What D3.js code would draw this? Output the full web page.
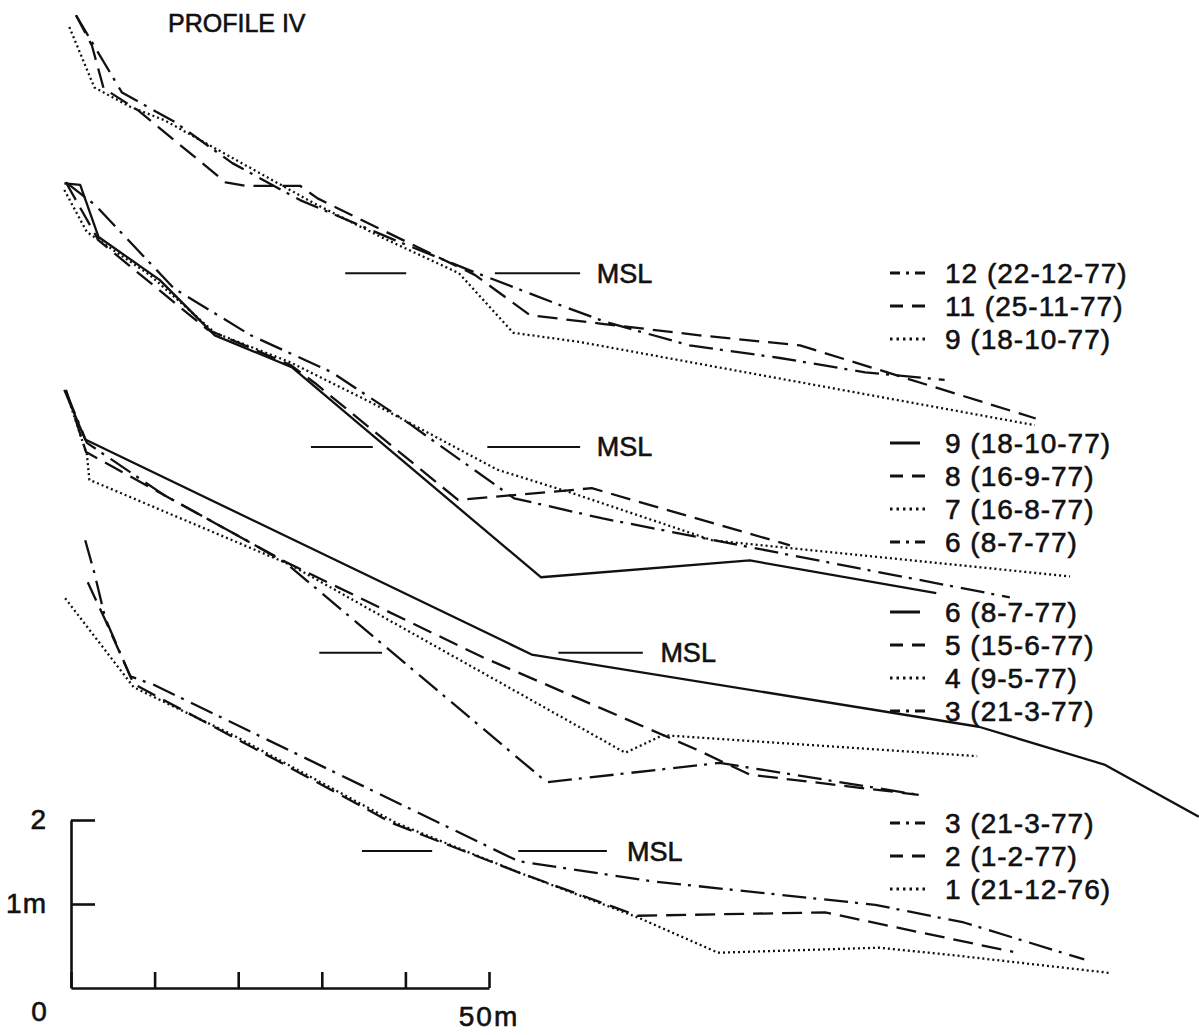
<!DOCTYPE html>
<html lang="en">
<head>
<meta charset="UTF-8">
<title>Profile IV</title>
<script src="https://d3js.org/d3.v7.min.js"></script>
<style>
    body { margin: 0; background: #fff; }
    svg { display: block; }
    text { font-family: "Liberation Sans", Arial, sans-serif; fill: #111; stroke: #111; stroke-width: 0.6px; }
    .profile { fill: none; stroke: #111; stroke-width: 2.3; stroke-linejoin: round; }
    .msl { stroke: #111; stroke-width: 2; }
    .key line { stroke: #111; stroke-width: 3; }
    .axis path, .axis line { stroke: #111; stroke-width: 2.6; fill: none; }
</style>
</head>
<body>
<script>
// distance along profile (m) and height relative to MSL (m)
const g1_12_d = [0.6, 3.1, 6.1, 12.4, 19.3, 27.4, 38.8, 48.3, 58.5, 63.9, 74.0, 84.8, 95.0, 104.5];
const g1_12_h = [3.07, 2.65, 2.15, 1.80, 1.31, 0.87, 0.39, 0.01, -0.38, -0.58, -0.86, -1.01, -1.18, -1.27];
const g1_11_d = [0.6, 2.5, 3.9, 8.0, 18.5, 20.8, 27.4, 29.5, 37.3, 48.3, 54.9, 63.3, 75.2, 87.2, 95.0, 115.4];
const g1_11_h = [3.07, 2.71, 2.20, 1.94, 1.08, 1.04, 1.04, 0.89, 0.51, -0.02, -0.50, -0.60, -0.74, -0.86, -1.10, -1.73];
const g1_9_d = [-0.2, 2.8, 7.1, 11.2, 29.1, 37.3, 46.4, 52.9, 60.9, 115.3];
const g1_9_h = [2.93, 2.21, 1.98, 1.82, 0.83, 0.42, 0.00, -0.71, -0.82, -1.81];

const g2_9_d = [-0.8, 1.1, 3.3, 10.6, 17.2, 26.4, 56.2, 81.2, 103.5];
const g2_9_h = [3.14, 3.12, 2.50, 1.99, 1.33, 0.95, -1.55, -1.35, -1.74];
const g2_8_d = [-0.6, 3.3, 16.3, 26.2, 29.2, 46.3, 62.3, 86.0];
const g2_8_h = [3.15, 2.46, 1.40, 0.98, 0.76, -0.63, -0.49, -1.17];
const g2_7_d = [-0.8, 1.9, 9.4, 17.2, 26.2, 36.1, 51.0, 59.7, 76.7, 119.5];
const g2_7_h = [3.06, 2.56, 2.05, 1.36, 1.01, 0.52, -0.27, -0.54, -1.11, -1.54];
const g2_6_d = [-0.6, 2.9, 12.3, 21.5, 31.2, 40.3, 53.0, 63.6, 84.7, 112.3];
const g2_6_h = [3.15, 2.88, 1.89, 1.33, 0.89, 0.29, -0.61, -0.85, -1.26, -1.79];

const g3_6_d = [-0.8, 1.7, 55.1, 108.6, 123.6, 134.9];
const g3_6_h = [3.13, 2.54, -0.02, -0.88, -1.33, -1.95];
const g3_5_d = [-0.6, 1.8, 25.7, 49.2, 74.8, 81.2, 101.4];
const g3_5_h = [3.13, 2.39, 1.08, -0.05, -1.15, -1.45, -1.69];
const g3_4_d = [-0.6, 1.9, 2.2, 26.2, 66.3, 70.8, 108.4];
const g3_4_h = [3.11, 2.36, 2.06, 1.05, -1.19, -0.98, -1.23];
const g3_3_d = [-0.6, 1.9, 11.1, 20.8, 25.7, 56.9, 77.6, 101.4];
const g3_3_h = [3.11, 2.50, 1.88, 1.35, 1.07, -1.54, -1.31, -1.69];

const g4_3_d = [1.7, 2.8, 4.1, 7.1, 9.9, 53.5, 69.5, 96.2, 106.8, 121.2];
const g4_3_h = [3.70, 3.31, 2.77, 2.08, 1.98, -0.12, -0.36, -0.64, -0.85, -1.29];
const g4_2_d = [2.0, 4.1, 7.5, 24.6, 38.5, 53.7, 67.8, 90.2, 112.7];
const g4_2_h = [3.20, 2.75, 1.99, 1.08, 0.33, -0.26, -0.77, -0.73, -1.20];
const g4_1_d = [-0.7, 7.5, 19.4, 39.0, 53.7, 67.8, 77.4, 96.7, 104.7, 124.2];
const g4_1_h = [3.01, 1.95, 1.38, 0.33, -0.26, -0.79, -1.21, -1.15, -1.23, -1.45];

// MSL marker pieces (m along profile) and where the label sits
const g1_msl = [[32.8, 40.1], [50.7, 60.9]];
const g2_msl = [[28.7, 36.1], [49.8, 60.9]];
const g3_msl = [[29.7, 37.2], [58.3, 68.4]];
const g4_msl = [[34.8, 43.2], [53.5, 64.1]];
const mslLabelAt = [62.9, 62.9, 70.5, 66.5];

// stacking: height of each group's MSL above the scale bar zero (m)
const groupBase = [8.51, 6.44, 3.99, 1.63];
const keyTop = [273, 443, 612, 823];

const width = 1199, height = 1035;
const x = d3.scaleLinear().domain([0, 50]).range([71, 489]);
const y = d3.scaleLinear().domain([0, 2]).range([988, 820]);

const dashes = { solid: null, dash: "20,9", dot: "2,3", dashdot: "24,7,3,8" };
const keyDashes = { solid: null, dash: "13,9", dot: "2.5,4", dashdot: "10,6,3,6" };

const groups = [
    { msl: g1_msl, series: [
        { n: "12", date: "22-12-77", style: "dashdot", d: g1_12_d, h: g1_12_h },
        { n: "11", date: "25-11-77", style: "dash", d: g1_11_d, h: g1_11_h },
        { n: "9", date: "18-10-77", style: "dot", d: g1_9_d, h: g1_9_h }] },
    { msl: g2_msl, series: [
        { n: "9", date: "18-10-77", style: "solid", d: g2_9_d, h: g2_9_h },
        { n: "8", date: "16-9-77", style: "dash", d: g2_8_d, h: g2_8_h },
        { n: "7", date: "16-8-77", style: "dot", d: g2_7_d, h: g2_7_h },
        { n: "6", date: "8-7-77", style: "dashdot", d: g2_6_d, h: g2_6_h }] },
    { msl: g3_msl, series: [
        { n: "6", date: "8-7-77", style: "solid", d: g3_6_d, h: g3_6_h },
        { n: "5", date: "15-6-77", style: "dash", d: g3_5_d, h: g3_5_h },
        { n: "4", date: "9-5-77", style: "dot", d: g3_4_d, h: g3_4_h },
        { n: "3", date: "21-3-77", style: "dashdot", d: g3_3_d, h: g3_3_h }] },
    { msl: g4_msl, series: [
        { n: "3", date: "21-3-77", style: "dashdot", d: g4_3_d, h: g4_3_h },
        { n: "2", date: "1-2-77", style: "dash", d: g4_2_d, h: g4_2_h },
        { n: "1", date: "21-12-76", style: "dot", d: g4_1_d, h: g4_1_h }] }
];

const svg = d3.select("body").append("svg")
    .attr("width", width)
    .attr("height", height);

svg.append("rect").attr("width", width).attr("height", height).attr("fill", "#fff");

svg.append("text")
    .attr("x", 168).attr("y", 23).attr("dy", "0.35em")
    .style("font-size", "25px")
    .text("PROFILE IV");

groups.forEach((g, gi) => {
    const base = groupBase[gi];
    const gg = svg.append("g").attr("class", "group");

    // MSL marks
    gg.selectAll(".msl").data(g.msl).enter().append("line")
        .attr("class", "msl")
        .attr("x1", d => x(d[0])).attr("x2", d => x(d[1]))
        .attr("y1", y(base)).attr("y2", y(base));
    gg.append("text")
        .attr("x", x(mslLabelAt[gi])).attr("y", y(base)).attr("dy", "0.35em")
        .style("font-size", "27px")
        .text("MSL");

    g.series.forEach(s => {
        const line = d3.line()
            .x(i => x(s.d[i]))
            .y(i => y(base + s.h[i]));
        gg.append("path")
            .attr("class", "profile")
            .attr("d", line(d3.range(s.d.length)))
            .attr("stroke-dasharray", dashes[s.style]);
    });

    // key
    const key = gg.append("g").attr("class", "key");
    g.series.forEach((s, i) => {
        const ky = keyTop[gi] + i * 33;
        key.append("line")
            .attr("x1", 890).attr("x2", s.style === "solid" ? 920 : 928)
            .attr("y1", ky).attr("y2", ky)
            .attr("stroke-dasharray", keyDashes[s.style]);
        key.append("text")
            .attr("x", 945).attr("y", ky).attr("dy", "0.35em")
            .style("font-size", "28px").style("letter-spacing", "1px")
            .text(s.n + " (" + s.date + ")");
    });
});

// scale bar
svg.append("g").attr("class", "axis")
    .attr("transform", `translate(${x(0)},0)`)
    .call(d3.axisLeft(y).tickValues([1, 2]).tickSize(-24).tickSizeOuter(0).tickPadding(24)
        .tickFormat(d => d === 1 ? "1m" : d))
    .call(a => a.selectAll("text").style("font-size", "28px").attr("font-family", null)
        .attr("fill", "#111").style("letter-spacing", "1px"));

svg.append("g").attr("class", "axis")
    .attr("transform", `translate(0,${y(0)})`)
    .call(d3.axisBottom(x).tickValues([0, 10, 20, 30, 40, 50]).tickSize(-16).tickSizeOuter(0).tickFormat(""));

svg.append("text")
    .attr("x", 39).attr("y", 1011).attr("dy", "0.35em")
    .attr("text-anchor", "middle")
    .style("font-size", "28px")
    .text("0");
svg.append("text")
    .attr("x", x(50)).attr("y", 1016).attr("dy", "0.35em")
    .attr("text-anchor", "middle")
    .style("font-size", "28px").style("letter-spacing", "2px")
    .text("50m");
</script>
</body>
</html>
